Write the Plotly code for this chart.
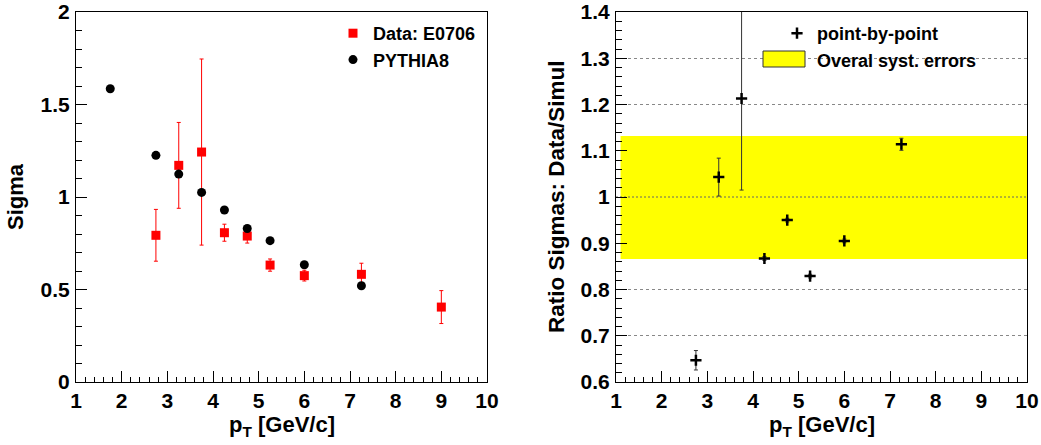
import plotly.graph_objects as go

# ---------------- data ----------------
pt_sim = [1.75, 2.75, 3.25, 3.75, 4.25, 4.75, 5.25, 6.0, 7.25]
sigma_sim = [1.585, 1.225, 1.124, 1.025, 0.930, 0.830, 0.764, 0.634, 0.520]

pt_data = [2.75, 3.25, 3.75, 4.25, 4.75, 5.25, 6.0, 7.25, 9.0]
sigma_data = [0.793, 1.171, 1.243, 0.807, 0.789, 0.632, 0.575, 0.582, 0.405]
sigma_data_err = [0.140, 0.232, 0.503, 0.046, 0.038, 0.033, 0.029, 0.060, 0.089]

pt_ratio = [2.75, 3.25, 3.75, 4.25, 4.75, 5.25, 6.0, 7.25]
ratio = [0.647, 1.043, 1.213, 0.867, 0.950, 0.829, 0.905, 1.114]
ratio_err = [0.021, 0.041, 0.198, 0.004, 0.004, 0.004, 0.004, 0.013]

syst_low, syst_high = 0.866, 1.132
syst_x = [1.1, 10.0]

FONT = "Liberation Sans"

fig = go.Figure()

# left panel
fig.add_trace(go.Scatter(
    x=pt_data, y=sigma_data, mode="markers", name="Data: E0706",
    marker=dict(symbol="square", size=9, color="red"),
    error_y=dict(type="data", array=sigma_data_err, color="red", thickness=1, width=2),
    xaxis="x", yaxis="y", legend="legend"))
fig.add_trace(go.Scatter(
    x=pt_sim, y=sigma_sim, mode="markers", name="PYTHIA8",
    marker=dict(symbol="circle", size=9, color="black"),
    xaxis="x", yaxis="y", legend="legend"))

# right panel
fig.add_trace(go.Scatter(
    x=pt_ratio, y=ratio, mode="markers", name="point-by-point",
    marker=dict(symbol="cross-thin", size=8, color="black",
                line=dict(width=2.5, color="black")),
    error_y=dict(type="data", array=ratio_err, color="#333333", thickness=1, width=2),
    xaxis="x2", yaxis="y2", legend="legend2"))
fig.add_trace(go.Scatter(
    x=[None], y=[None], mode="lines", name="Overal syst. errors",
    line=dict(color="rgba(0,0,0,0)", width=0),
    xaxis="x2", yaxis="y2", legend="legend2"))

fig.add_shape(type="rect", xref="x2", yref="y2", x0=syst_x[0], x1=syst_x[1],
              y0=syst_low, y1=syst_high, fillcolor="yellow", line=dict(width=0),
              layer="between")
fig.add_shape(type="line", xref="x2", yref="y2", x0=1, x1=10, y0=1, y1=1,
              line=dict(color="#666666", width=1, dash="2px,2px"), layer="between")
# legend key box for the systematic band
fig.add_shape(type="rect", xref="paper", yref="paper",
              x0=763 / 1041, x1=805 / 1041, y0=1 - 67 / 445, y1=1 - 51 / 445,
              fillcolor="yellow", line=dict(color="#333333", width=1), layer="above")

xd1 = [76 / 1041, 487 / 1041]
xd2 = [616 / 1041, 1027 / 1041]
yd = [1 - 382 / 445, 1 - 12 / 445]

tickfont = dict(family=FONT, size=21, color="black", weight="bold")
common_x = dict(range=[1, 10], dtick=1, tick0=1, ticks="inside", ticklen=11,
                tickwidth=1, tickcolor="black", showline=True, linecolor="black",
                linewidth=1, mirror=True, showgrid=False, zeroline=False,
                tickfont=tickfont, ticklabelstandoff=0, automargin=False,
                tickprefix="<b>", ticksuffix="</b>",
                minor=dict(dtick=0.2, tick0=1, ticks="inside", ticklen=5.5,
                           tickcolor="black", showgrid=False))

legfont = dict(family=FONT, size=18, color="black", weight="bold")

fig.update_layout(
    width=1041, height=445,
    margin=dict(l=0, r=0, t=0, b=0, pad=0, autoexpand=False),
    paper_bgcolor="white", plot_bgcolor="white",
    font=dict(family=FONT, color="black"),
    xaxis=dict(domain=xd1, anchor="y", **common_x),
    yaxis=dict(domain=yd, anchor="x", range=[0, 2], dtick=0.5, tick0=0,
               ticks="inside", ticklen=11, tickwidth=1, tickcolor="black",
               showline=True, linecolor="black", linewidth=1, mirror=True,
               showgrid=False, zeroline=False, tickfont=tickfont, automargin=False,
               tickprefix="<b>", ticksuffix="</b>", ticklabelstandoff=1,
               minor=dict(dtick=0.1, ticks="inside", ticklen=5.5,
                          tickcolor="black", showgrid=False)),
    xaxis2=dict(domain=xd2, anchor="y2", **common_x),
    yaxis2=dict(domain=yd, anchor="x2", range=[0.6, 1.4], dtick=0.1, tick0=0.6,
                ticks="inside", ticklen=11, tickwidth=1, tickcolor="black",
                showline=True, linecolor="black", linewidth=1, mirror=True,
                showgrid=True, gridcolor="#888888", griddash="dot", gridwidth=1,
                zeroline=False, tickfont=tickfont, ticklabelstandoff=1,
                automargin=False, tickprefix="<b>", ticksuffix="</b>",
                minor=dict(dtick=0.02, ticks="inside", ticklen=5.5,
                           tickcolor="black", showgrid=False)),
    legend=dict(x=333 / 1041, y=1 - 15 / 445, xanchor="left", yanchor="top",
                bgcolor="rgba(0,0,0,0)", font=legfont,
                itemwidth=30, tracegroupgap=0),
    legend2=dict(x=777 / 1041, y=1 - 15 / 445, xanchor="left", yanchor="top",
                 bgcolor="rgba(0,0,0,0)", font=legfont,
                 itemwidth=30, tracegroupgap=0),
    showlegend=True,
)

title_font = dict(family=FONT, size=22, color="black", weight="bold")
fig.add_annotation(text="p<sub>T</sub> [GeV/c]", xref="paper", yref="paper",
                   x=(xd1[0] + xd1[1]) / 2, y=1 - 426 / 445, xanchor="center",
                   yanchor="middle", showarrow=False, font=title_font)
fig.add_annotation(text="p<sub>T</sub> [GeV/c]", xref="paper", yref="paper",
                   x=(xd2[0] + xd2[1]) / 2, y=1 - 426 / 445, xanchor="center",
                   yanchor="middle", showarrow=False, font=title_font)
fig.add_annotation(text="Sigma", xref="paper", yref="paper",
                   x=16 / 1041, y=1 - 197 / 445, xanchor="center", yanchor="middle",
                   textangle=-90, showarrow=False, font=title_font)
fig.add_annotation(text="Ratio Sigmas: Data/Simul", xref="paper", yref="paper",
                   x=557 / 1041, y=1 - 197 / 445, xanchor="center", yanchor="middle",
                   textangle=-90, showarrow=False, font=dict(title_font, size=22.5))

fig.write_html("out.html", config={"displayModeBar": False},
               post_script="document.body.style.margin='0';document.body.style.padding='0';")
